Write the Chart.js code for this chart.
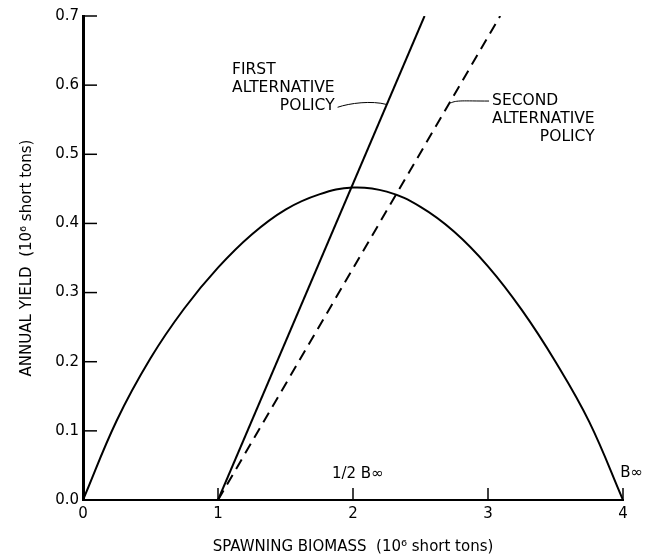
<!DOCTYPE html>
<html lang="en">
<head>
<meta charset="UTF-8">
<title>Yield curve and alternative policies</title>
<script src="https://cdn.jsdelivr.net/npm/chart.js@4.4.0/dist/chart.umd.min.js"></script>
<style>
  html, body { margin: 0; padding: 0; background: #fff; }
</style>
</head>
<body>
<canvas id="chart" width="647" height="559"></canvas>
<script>
// spawning biomass (10^6 short tons) and annual yield (10^6 short tons)
const biomass = [0, 0.25, 0.5, 0.75, 1, 1.25, 1.5, 1.75, 2, 2.25, 2.5, 2.75, 3, 3.25, 3.5, 3.75, 4];
const yieldCurve = [0, 0.115, 0.205, 0.277, 0.336, 0.384, 0.42, 0.442, 0.452, 0.446, 0.424, 0.388, 0.338, 0.275, 0.2, 0.113, 0];

// policy lines, start and end points
const firstPolicyX = [1, 2.53];
const firstPolicyY = [0, 0.7];
const secondPolicyX = [1, 3.09];
const secondPolicyY = [0, 0.7];

const xTicks = [0, 1, 2, 3, 4];
const yTicks = [0, 0.1, 0.2, 0.3, 0.4, 0.5, 0.6, 0.7];

const font = "'DejaVu Sans', sans-serif";

function pts(xs, ys) {
  return xs.map((x, i) => ({ x: x, y: ys[i] }));
}

// inward tick marks, labels and leader lines
const extras = {
  id: 'extras',
  afterDraw(chart) {
    const ctx = chart.ctx;
    const xs = chart.scales.x, ys = chart.scales.y;
    const X = v => xs.getPixelForValue(v);
    const Y = v => ys.getPixelForValue(v);
    ctx.save();
    ctx.strokeStyle = '#000';
    ctx.fillStyle = '#000';

    // ticks
    ctx.lineWidth = 1.5;
    yTicks.slice(1).forEach(t => {
      ctx.beginPath();
      ctx.moveTo(X(0), Y(t));
      ctx.lineTo(X(0) + 14, Y(t));
      ctx.stroke();
    });
    xTicks.slice(1).forEach(t => {
      ctx.beginPath();
      ctx.moveTo(X(t), Y(0));
      ctx.lineTo(X(t), Y(0) - 12);
      ctx.stroke();
    });

    // text blocks
    ctx.font = '15.5px ' + font;
    ctx.textBaseline = 'middle';
    function block(x0, yTop, lines) {
      const w = ctx.measureText(lines[1]).width;
      ctx.textAlign = 'left';
      ctx.fillText(lines[0], x0, yTop);
      ctx.fillText(lines[1], x0, yTop + 18);
      ctx.textAlign = 'right';
      ctx.fillText(lines[2], x0 + w, yTop + 36);
      return { right: x0 + w };
    }
    const b1 = block(X(1.104), Y(0.622), ['FIRST', 'ALTERNATIVE', 'POLICY']);
    block(X(3.03), Y(0.577), ['SECOND', 'ALTERNATIVE', 'POLICY']);

    // leader lines
    ctx.lineWidth = 1;
    const ly1 = Y(0.572);
    const lx1 = X(firstPolicyX[0] + 0.572 * (firstPolicyX[1] - firstPolicyX[0]) / firstPolicyY[1]);
    ctx.beginPath();
    ctx.moveTo(b1.right + 3, Y(0.568));
    ctx.bezierCurveTo(b1.right + 15, Y(0.574), lx1 - 15, Y(0.578), lx1, ly1);
    ctx.stroke();

    const ly2 = Y(0.577);
    const lx2 = X(secondPolicyX[0] + 0.577 * (secondPolicyX[1] - secondPolicyX[0]) / secondPolicyY[1]);
    ctx.beginPath();
    ctx.moveTo(lx2, ly2 + 2);
    ctx.bezierCurveTo(lx2 + 6, ly2 - 1, lx2 + 12, ly2, X(3.03) - 3, ly2);
    ctx.stroke();

    // B-infinity labels
    ctx.font = '15px ' + font;
    ctx.textAlign = 'left';
    ctx.fillText('1/2 B\u221E', X(1.844), Y(0.037));
    ctx.fillText('B\u221E', X(3.98), Y(0.039));
    ctx.restore();
  }
};

new Chart(document.getElementById('chart'), {
  type: 'scatter',
  data: {
    datasets: [
      {
        data: pts(biomass, yieldCurve),
        showLine: true,
        borderColor: '#000',
        borderWidth: 2,
        pointRadius: 0,
        tension: 0.4
      },
      {
        data: pts(firstPolicyX, firstPolicyY),
        showLine: true,
        borderColor: '#000',
        borderWidth: 2,
        pointRadius: 0
      },
      {
        data: pts(secondPolicyX, secondPolicyY),
        showLine: true,
        borderColor: '#000',
        borderWidth: 2,
        borderDash: [11, 7],
        pointRadius: 0
      }
    ]
  },
  options: {
    responsive: false,
    animation: false,
    layout: { padding: { top: 16, right: 24, left: 0, bottom: 0 } },
    plugins: { legend: { display: false }, tooltip: { enabled: false } },
    scales: {
      x: {
        type: 'linear',
        min: 0, max: 4,
        afterFit(s) { s.height = 59; },
        afterBuildTicks(s) { s.ticks = xTicks.map(v => ({ value: v })); },
        ticks: { color: '#000', font: { family: font, size: 15 }, padding: 5 },
        grid: { drawOnChartArea: false, drawTicks: false },
        border: { display: true, color: '#000', width: 2 },
        title: {
          display: true,
          text: 'SPAWNING BIOMASS  (10\u2076 short tons)',
          color: '#000',
          font: { family: font, size: 15 },
          padding: { top: 0, bottom: 3 }
        }
      },
      y: {
        min: 0, max: 0.7,
        afterFit(s) { s.width = 83; },
        afterBuildTicks(s) { s.ticks = yTicks.map(v => ({ value: v })); },
        ticks: {
          color: '#000',
          font: { family: font, size: 15 },
          padding: 4,
          callback: v => v.toFixed(1)
        },
        grid: { drawOnChartArea: false, drawTicks: false },
        border: { display: true, color: '#000', width: 3 },
        title: {
          display: true,
          text: 'ANNUAL YIELD  (10\u2076 short tons)',
          color: '#000',
          font: { family: font, size: 15 },
          padding: { top: 18, bottom: 0 }
        }
      }
    }
  },
  plugins: [extras]
});
</script>
</body>
</html>
